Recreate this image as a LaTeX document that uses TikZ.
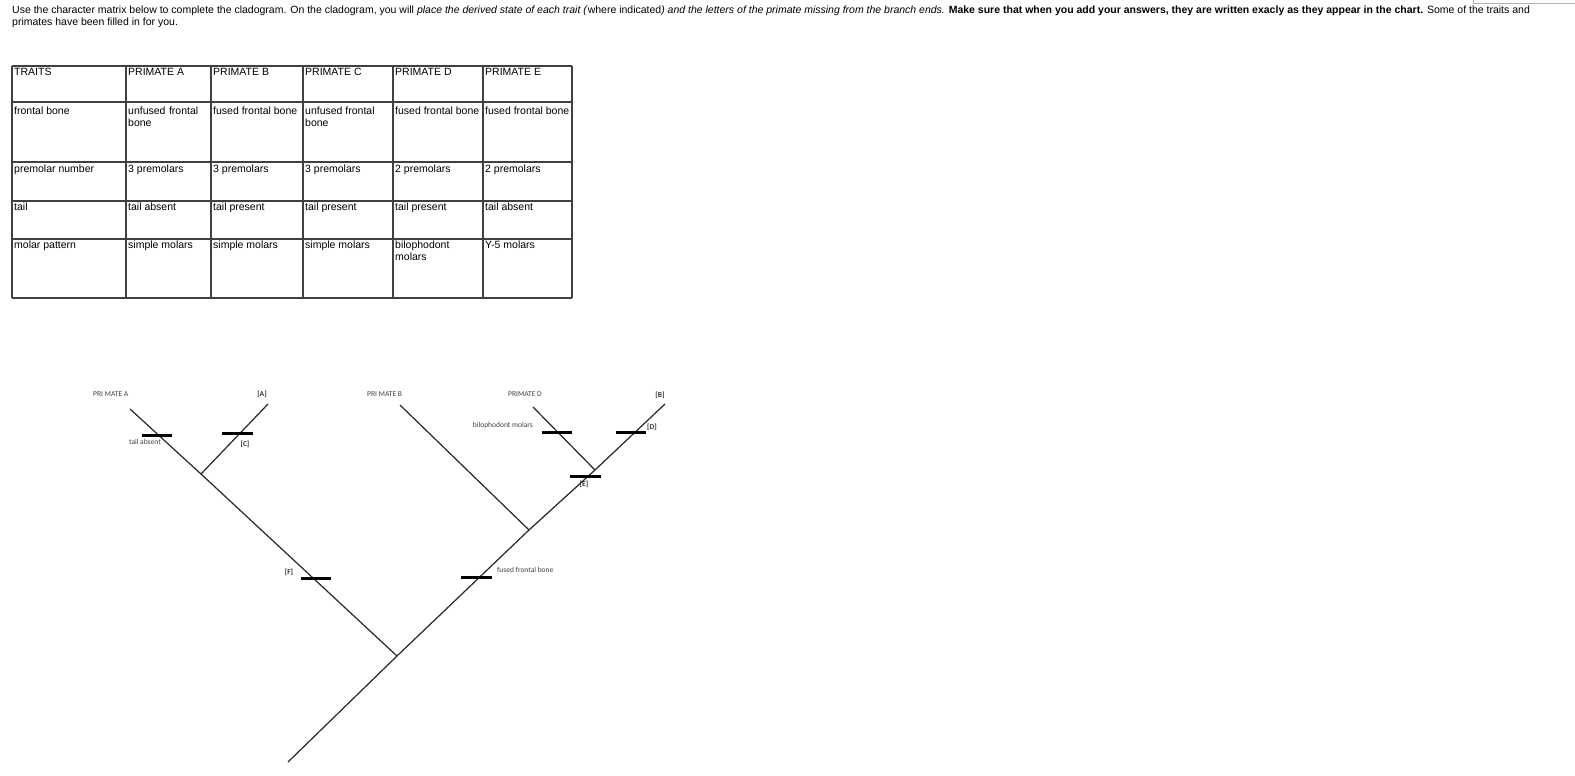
\documentclass[tikz,border=0pt]{standalone}
\usepackage{fontspec}
\setmainfont{Liberation Sans}
\newfontfamily\clfont{Carlito}
\begin{document}
\begin{tikzpicture}[x=1pt,y=-1pt,
  br/.style={line width=1.2pt,draw=black!85},
  hbar/.style={line width=3pt},
  grid/.style={line width=1.5pt,draw=black!75},
  cell/.style={anchor=north west,inner sep=0pt,font=\fontsize{10.5}{12}\selectfont,align=left},
  lab/.style={inner sep=0pt,font=\clfont\fontsize{7.5}{9}\selectfont,text=black!75},
  blab/.style={inner sep=0pt,font=\clfont\bfseries\fontsize{7.5}{9}\selectfont,text=black!80}]
\useasboundingbox (0,0) rectangle (1575,776);
\fill[white] (0,0) rectangle (1575,776);
% top text
\node[anchor=west,inner sep=0pt,font=\fontsize{10.5}{12}\selectfont] (t1) at (12,11) {Use the character matrix below to complete the cladogram. On the cladogram, you will \textit{place the derived state of each trait (}where indicated\textit{) and the letters of the primate missing from the branch ends.} \textbf{Make sure that when you add your answers, they are written exacly as they appear in the chart.} Some of the traits and};
\node[anchor=west,inner sep=0pt,font=\fontsize{10.5}{12}\selectfont] (t2) at (12,23) {primates have been filled in for you.};
\draw[black!30,line width=0.8pt] (1473,0) -- (1473,3) -- (1575,3);
% table
\foreach \x in {12,126,211,303,393,483,572} \draw[grid] (\x,66) -- (\x,298);
\foreach \y in {66,102,162,201,239,298} \draw[grid] (12,\y) -- (572,\y);
\foreach \x/\t [count=\i] in {14/TRAITS,128/PRIMATE A,213/PRIMATE B,305/PRIMATE C,395/PRIMATE D,485/PRIMATE E}
  \node[cell] (h\i) at (\x,68) {\t};
\node[cell] (r1) at (14,107) {frontal bone};
\node[cell,text width=80pt] (r1a) at (128,107) {unfused frontal\\bone};
\node[cell] (r1b) at (213,107) {fused frontal bone};
\node[cell] (r1c) at (305,107) {unfused frontal\\bone};
\node[cell] (r1d) at (395,107) {fused frontal bone};
\node[cell] (r1e) at (485,107) {fused frontal bone};
\node[cell] (r2) at (14,165) {premolar number};
\foreach \x/\t [count=\i] in {128/3 premolars,213/3 premolars,305/3 premolars,395/2 premolars,485/2 premolars}
  \node[cell] (p\i) at (\x,165) {\t};
\node[cell] (r3) at (14,203) {tail};
\foreach \x/\t [count=\i] in {128/tail absent,213/tail present,305/tail present,395/tail present,485/tail absent}
  \node[cell] (q\i) at (\x,203) {\t};
\node[cell] (r4) at (14,241) {molar pattern};
\foreach \x/\t [count=\i] in {128/simple molars,213/simple molars,305/simple molars,395/bilophodont\\molars,485/Y-5 molars}
  \node[cell] (m\i) at (\x,241) {\t};
% cladogram
\coordinate (root) at (288,762);
\coordinate (n1) at (397,656);
\coordinate (n2) at (201,474);
\coordinate (n3) at (529,530);
\coordinate (n4) at (595,470);
\coordinate (eA) at (130,409);
\coordinate (eC) at (268,404);
\coordinate (eB) at (400,405);
\coordinate (eD) at (533,407);
\coordinate (eR) at (665,404);
\draw[br] (root) -- (n1) -- (n3) -- (n4) -- (eR);
\draw[br] (n1) -- (n2) -- (eA);
\draw[br] (n2) -- (eC);
\draw[br] (n3) -- (eB);
\draw[br] (n4) -- (eD);
% bars
\draw[hbar] (142,435) -- (172,435);
\draw[hbar] (222,433) -- (253,433);
\draw[hbar] (301,578) -- (331,578);
\draw[hbar] (461,577) -- (492,577);
\draw[hbar] (542,432) -- (572,432);
\draw[hbar] (616,432) -- (646,432);
\draw[hbar] (570,476) -- (601,476);
% labels
\node[lab,anchor=west] (lA) at (93,394) {PRI MATE A};
\node[lab,anchor=west] (lB) at (367,394) {PRI MATE B};
\node[lab,anchor=west] (lD) at (508,394) {PRIMATE D};
\node[blab] (lAA) at (262,394) {[A]};
\node[blab] (lBB) at (660,395) {[B]};
\node[blab] (lC) at (245,444) {[C]};
\node[blab] (lDD) at (652,427) {[D]};
\node[blab] (lE) at (584,484) {[E]};
\node[blab] (lF) at (289,572) {[F]};
\node[lab,anchor=east] (ta) at (161,442) {tail absent};
\node[lab,anchor=east] (bm) at (533,425) {bilophodont molars};
\node[lab,anchor=west] (ff) at (497,570) {fused frontal bone};
\end{tikzpicture}
\end{document}
